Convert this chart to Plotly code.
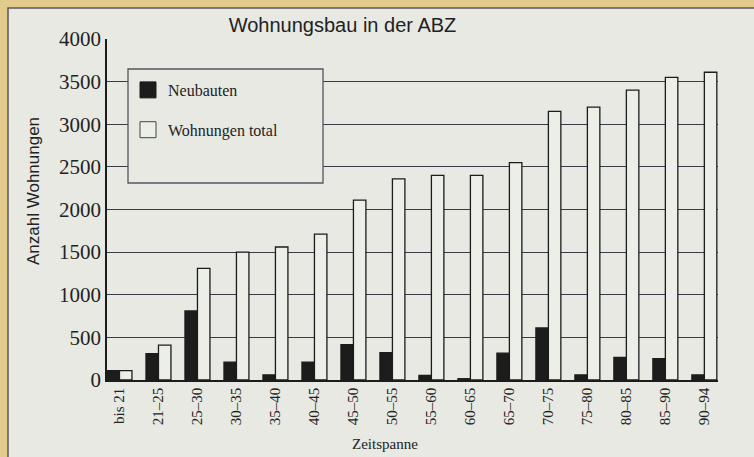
import plotly.graph_objects as go

categories = ["bis 21", "21–25", "25–30", "30–35", "35–40", "40–45", "45–50", "50–55",
              "55–60", "60–65", "65–70", "70–75", "75–80", "80–85", "85–90", "90–94"]
neubauten = [110, 310, 810, 210, 60, 210, 415, 320, 55, 15, 315, 610, 60, 265, 250, 60]
wohnungen_total = [110, 410, 1310, 1500, 1560, 1710, 2110, 2360, 2400, 2400, 2550, 3150, 3200, 3400, 3550, 3610]
y_ticks = [0, 500, 1000, 1500, 2000, 2500, 3000, 3500, 4000]

W, H = 754, 457
L, R, T, B = 107, 36, 39, 77
PW, PH = W - L - R, H - T - B

def px(x):
    return (x - L) / PW

def py(y):
    return (H - B - y) / PH

BG = "#E7E9E2"
TAN = "#E3CC8B"
INK = "#1c1c1c"
GRID = "#3a3a48"
SERIF = "Liberation Serif, Times New Roman, serif"
SANS = "Liberation Sans, Arial, sans-serif"

fig = go.Figure()
fig.add_trace(go.Bar(x=categories, y=neubauten, name="Neubauten",
                     marker=dict(color=INK, line=dict(color=INK, width=1.3)), showlegend=False))
fig.add_trace(go.Bar(x=categories, y=wohnungen_total, name="Wohnungen total",
                     marker=dict(color="#ECEEE8", line=dict(color=INK, width=1.3)), showlegend=False))
# legend entries
fig.add_trace(go.Scatter(x=[None], y=[None], mode="markers", name="Neubauten", legendgroup="a",
                         marker=dict(symbol="square", size=16, color=INK, line=dict(color=INK, width=1))))
fig.add_trace(go.Scatter(x=[None], y=[None], mode="markers", name="Wohnungen total", legendgroup="b",
                         marker=dict(symbol="square", size=16, color="#ECEEE8", line=dict(color="#444", width=1))))

fig.update_layout(
    width=W, height=H,
    margin=dict(l=L, r=R, t=T, b=B),
    paper_bgcolor=TAN, plot_bgcolor=BG,
    barmode="group", bargap=0.36, bargroupgap=0,
    title=dict(text="Wohnungsbau in der ABZ", x=342.5 / W, xref="container", xanchor="center",
               y=1 - 25 / H, yref="container", yanchor="middle",
               font=dict(family=SANS, size=20, color="#222")),
    legend=dict(x=px(128), y=py(73), xanchor="left", yanchor="top",
                bgcolor="rgba(0,0,0,0)", borderwidth=0,
                font=dict(family=SERIF, size=16, color="#222"),
                traceorder="grouped", tracegroupgap=16, itemsizing="trace"),
    xaxis=dict(type="category", range=[-0.32, 15.35], showgrid=False,
               showline=True, linecolor=INK, linewidth=1.5,
               tickangle=-90, tickfont=dict(family=SERIF, size=15, color="#222"), ticks=""),
    yaxis=dict(range=[0, 4000], tickvals=y_ticks, showgrid=True, gridcolor=GRID, gridwidth=1.2,
               showline=True, linecolor=INK, linewidth=1.5, zeroline=False, ticks="",
               tickfont=dict(family=SERIF, size=21, color="#222")),
    shapes=[
        dict(type="rect", xref="paper", yref="paper", x0=px(8), x1=px(W + 10), y0=py(H + 10), y1=py(8),
             fillcolor=BG, line=dict(color="#5a5a5a", width=1.5), layer="below"),
        dict(type="rect", xref="paper", yref="paper", x0=px(128), x1=px(323), y0=py(183), y1=py(69),
             fillcolor=BG, line=dict(color="#55555f", width=1.3), layer="above"),
    ],
    annotations=[
        dict(text="Zeitspanne", xref="paper", yref="paper", x=px(385), y=py(444),
             xanchor="center", yanchor="middle", showarrow=False,
             font=dict(family=SERIF, size=15, color="#222")),
        dict(text="Anzahl Wohnungen", xref="paper", yref="paper", x=px(33), y=py(191),
             xanchor="center", yanchor="middle", showarrow=False, textangle=-90,
             font=dict(family=SANS, size=17, color="#222")),
    ],
)

fig.write_html("out.html", config={"displayModeBar": False},
               post_script="document.body.style.margin='0';document.body.style.overflow='hidden';")
